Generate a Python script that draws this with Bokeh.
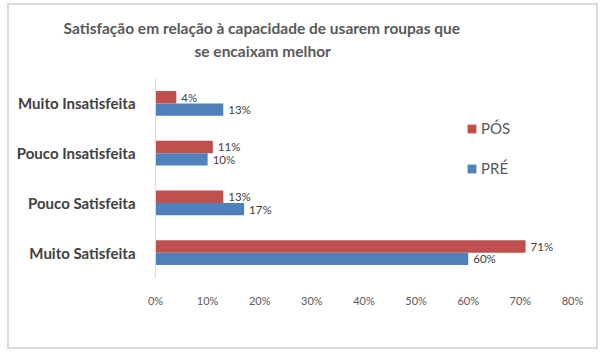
from bokeh.plotting import figure
from bokeh.models import (FactorRange, ColumnDataSource, Title, Legend, LegendItem,
                          NumeralTickFormatter, FixedTicker)
from bokeh.transform import dodge
from bokeh.core.properties import value
from bokeh.embed import file_html
from bokeh.resources import INLINE

categories = ["Muito Satisfeita", "Pouco Satisfeita", "Pouco Insatisfeita", "Muito Insatisfeita"]
pos_values = [0.71, 0.13, 0.11, 0.04]
pre_values = [0.60, 0.17, 0.10, 0.13]
pos_labels = ["71%", "13%", "11%", "4%"]
pre_labels = ["60%", "17%", "10%", "13%"]
x_ticks = [0, 0.1, 0.2, 0.3, 0.4, 0.5, 0.6, 0.7, 0.8]
title_lines = ["Satisfação em relação à capacidade de usarem roupas que", "se encaixam melhor"]

RED = "#C0504D"
BLUE = "#4F81BD"
FONT = "Lato"

src = ColumnDataSource(dict(cat=categories, pos=pos_values, pre=pre_values,
                            pos_lab=pos_labels, pre_lab=pre_labels))

p = figure(y_range=FactorRange(*categories), x_range=(0, 0.8),
           frame_width=417, frame_height=199,
           min_border_left=155, min_border_right=28, min_border_top=78, min_border_bottom=77,
           output_backend="svg", toolbar_location=None)

p.add_layout(Title(text=title_lines[1], align="left", text_font=FONT, text_font_size="15.5px",
                   text_color="#595959", text_font_style="bold", offset=39,
                   standoff=0, padding=dict(left=0, right=0, top=0, bottom=19)), "above")
p.add_layout(Title(text=title_lines[0], align="left", text_font=FONT, text_font_size="15.5px",
                   text_color="#595959", text_font_style="bold", offset=-92,
                   standoff=6), "above")

r_pos = p.hbar(y=dodge("cat", 0.125, range=p.y_range), right="pos", left=0, height=0.25,
               source=src, fill_color=RED, line_color=None)
r_pre = p.hbar(y=dodge("cat", -0.125, range=p.y_range), right="pre", left=0, height=0.25,
               source=src, fill_color=BLUE, line_color=None)

p.text(x="pos", y=dodge("cat", 0.125, range=p.y_range), text="pos_lab", source=src,
       x_offset=5, text_baseline="middle", text_align="left",
       text_font=value(FONT), text_font_size="11.5px", text_color="#404040")
p.text(x="pre", y=dodge("cat", -0.125, range=p.y_range), text="pre_lab", source=src,
       x_offset=5, text_baseline="middle", text_align="left",
       text_font=value(FONT), text_font_size="11.5px", text_color="#404040")

legend = Legend(items=[LegendItem(label="PÓS", renderers=[r_pos]),
                       LegendItem(label="PRÉ", renderers=[r_pre])],
                location=(311, 100), orientation="vertical",
                label_text_font=FONT, label_text_font_size="15px", label_text_color="#595959",
                glyph_width=11, glyph_height=11, label_standoff=4, spacing=22,
                padding=0, margin=0, border_line_color=None, background_fill_alpha=0)
p.add_layout(legend, "center")

p.xgrid.grid_line_color = None
p.ygrid.grid_line_color = None
p.outline_line_color = None

p.xaxis.ticker = FixedTicker(ticks=x_ticks)
p.xaxis.formatter = NumeralTickFormatter(format="0%")
p.xaxis.axis_line_color = None
p.xaxis.major_tick_line_color = None
p.xaxis.minor_tick_line_color = None
p.xaxis.major_label_text_font = FONT
p.xaxis.major_label_text_font_size = "11px"
p.xaxis.major_label_text_color = "#595959"
p.xaxis.major_label_standoff = 10

p.yaxis.axis_line_color = "#D9D9D9"
p.yaxis.major_tick_line_color = None
p.yaxis.minor_tick_line_color = None
p.yaxis.major_label_text_font = FONT
p.yaxis.major_label_text_font_size = "15px"
p.yaxis.major_label_text_font_style = "bold"
p.yaxis.major_label_text_color = "#404040"
p.yaxis.major_label_standoff = 14

p.stylesheets = [":host::after { content: ''; position: absolute; left: 7px; top: 3px; "
                 "width: 591px; height: 346px; border: 2px solid #D9D9D9; "
                 "box-sizing: border-box; pointer-events: none; z-index: 10; }"]

open("out.html", "w").write(file_html(p, INLINE))
